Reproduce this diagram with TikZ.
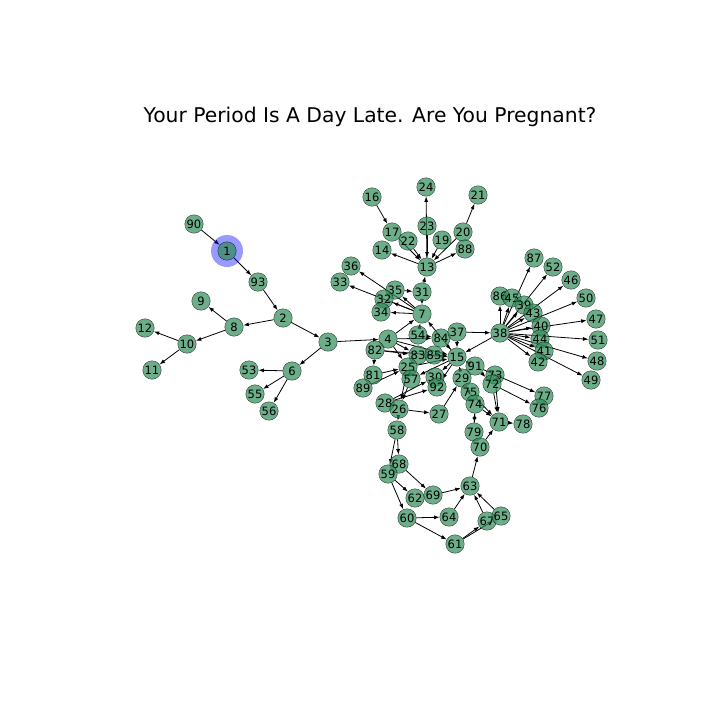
\documentclass[tikz,border=0pt]{standalone}
\usepackage{fontspec}
\setmainfont{DejaVu Sans}
\usetikzlibrary{arrows.meta, backgrounds}
\definecolor{vertfill}{RGB}{46,139,87}
\begin{document}
\begin{tikzpicture}[x=1pt, y=-1pt, >={Latex[length=5.5pt,width=4pt]},
    every node/.style={circle, draw=black, draw opacity=0.7, fill=vertfill, fill opacity=0.7, text opacity=1, minimum size=18.5pt, inner sep=0pt, font=\fontsize{11.5}{11.5}\selectfont},
    edge/.style={->, draw=black, line width=0.8pt}]
    \useasboundingbox (0,0) rectangle (720,720);
    % Title
    \node[draw=none, fill=none, font=\fontsize{20.3}{21}\selectfont] at (370,117) (title) {Your Period Is A Day Late. Are You Pregnant?};
    % Start marker
    \node[draw=none, fill=blue, fill opacity=0.4, minimum size=32pt] at (227,251) (h1) {};

    % Nodes
    \node at (227,251) (n1) {1};
    \node at (194,224) (n90) {90};
    \node at (258,282) (n93) {93};
    \node at (283,318) (n2) {2};
    \node at (234,327) (n8) {8};
    \node at (201,301) (n9) {9};
    \node at (187,344) (n10) {10};
    \node at (145,328) (n12) {12};
    \node at (152,370) (n11) {11};
    \node at (328,342) (n3) {3};
    \node at (292,371) (n6) {6};
    \node at (249,370) (n53) {53};
    \node at (255,394) (n55) {55};
    \node at (269,411) (n56) {56};
    \node at (372,197) (n16) {16};
    \node at (426,187) (n24) {24};
    \node at (478,195) (n21) {21};
    \node at (392,232) (n17) {17};
    \node at (427,226) (n23) {23};
    \node at (408,241) (n22) {22};
    \node at (442,240) (n19) {19};
    \node at (463,232) (n20) {20};
    \node at (382,250) (n14) {14};
    \node at (465,249) (n88) {88};
    \node at (427,267) (n13) {13};
    \node at (351,266) (n36) {36};
    \node at (340,282) (n33) {33};
    \node at (395,290) (n35) {35};
    \node at (422,292) (n31) {31};
    \node at (384,299) (n32) {32};
    \node at (381,312) (n34) {34};
    \node at (422,314) (n7) {7};
    \node at (388,339) (n4) {4};
    \node at (418,335) (n54) {54};
    \node at (441,338) (n84) {84};
    \node at (457,332) (n37) {37};
    \node at (500,333) (n38) {38};
    \node at (375,350) (n82) {82};
    \node at (418,355) (n83) {83};
    \node at (434,355) (n85) {85};
    \node at (457,357) (n15) {15};
    \node at (475,366) (n91) {91};
    \node at (408,367) (n25) {25};
    \node at (373,375) (n81) {81};
    \node at (363,388) (n89) {89};
    \node at (435,377) (n30) {30};
    \node at (411,379) (n57) {57};
    \node at (437,387) (n92) {92};
    \node at (462,378) (n29) {29};
    \node at (385,403) (n28) {28};
    \node at (399,409) (n26) {26};
    \node at (439,414) (n27) {27};
    \node at (470,392) (n75) {75};
    \node at (475,404) (n74) {74};
    \node at (495,375) (n73) {73};
    \node at (492,384) (n72) {72};
    \node at (499,422) (n71) {71};
    \node at (523,424) (n78) {78};
    \node at (544,396) (n77) {77};
    \node at (539,408) (n76) {76};
    \node at (474,432) (n79) {79};
    \node at (480,447) (n70) {70};
    \node at (397,430) (n58) {58};
    \node at (399,464) (n68) {68};
    \node at (388,474) (n59) {59};
    \node at (415,498) (n62) {62};
    \node at (433,495) (n69) {69};
    \node at (470,486) (n63) {63};
    \node at (449,517) (n64) {64};
    \node at (407,518) (n60) {60};
    \node at (455,544) (n61) {61};
    \node at (487,521) (n67) {67};
    \node at (501,516) (n65) {65};
    \node at (534,258) (n87) {87};
    \node at (553,267) (n52) {52};
    \node at (571,280) (n46) {46};
    \node at (500,296) (n86) {86};
    \node at (512,298) (n45) {45};
    \node at (524,305) (n39) {39};
    \node at (586,298) (n50) {50};
    \node at (533,313) (n43) {43};
    \node at (541,326) (n40) {40};
    \node at (596,319) (n47) {47};
    \node at (540,339) (n44) {44};
    \node at (598,340) (n51) {51};
    \node at (544,351) (n41) {41};
    \node at (538,362) (n42) {42};
    \node at (597,361) (n48) {48};
    \node at (591,380) (n49) {49};

    % Edges
    \begin{scope}[on background layer]
    \draw[edge] (n90) -- (n1);   \draw[edge] (n1) -- (n93);   \draw[edge] (n93) -- (n2);
    \draw[edge] (n2) -- (n8);    \draw[edge] (n2) -- (n3);    \draw[edge] (n8) -- (n9);
    \draw[edge] (n8) -- (n10);   \draw[edge] (n10) -- (n12);  \draw[edge] (n10) -- (n11);
    \draw[edge] (n3) -- (n6);    \draw[edge] (n6) -- (n53);   \draw[edge] (n6) -- (n55);
    \draw[edge] (n6) -- (n56);   \draw[edge] (n3) -- (n4);

    \draw[edge] (n16) -- (n17);  \draw[edge] (n17) -- (n13);  \draw[edge] (n13) -- (n14);
    \draw[edge] (n22) -- (n13);  \draw[edge] (n23) -- (n13);  \draw[edge] (n13) -- (n24);
    \draw[edge] (n19) -- (n13);  \draw[edge] (n20) -- (n13);  \draw[edge] (n20) -- (n21);
    \draw[edge] (n13) -- (n88);  \draw[edge] (n31) -- (n13);  \draw[edge] (n31) -- (n7);
    \draw[edge] (n35) -- (n31);  \draw[edge] (n7) -- (n36);   \draw[edge] (n7) -- (n33);
    \draw[edge] (n7) -- (n34);   \draw[edge] (n7) -- (n35);   \draw[edge] (n7) -- (n32);
    \draw[edge] (n4) -- (n7);    \draw[edge] (n54) -- (n7);   \draw[edge] (n15) -- (n7);

    \draw[edge] (n4) -- (n84);   \draw[edge] (n54) -- (n84);  \draw[edge] (n4) -- (n15);
    \draw[edge] (n4) -- (n25);   \draw[edge] (n82) -- (n83);  \draw[edge] (n82) -- (n15);
    \draw[edge] (n82) -- (n81);  \draw[edge] (n81) -- (n25);  \draw[edge] (n89) -- (n25);
    \draw[edge] (n83) -- (n15);  \draw[edge] (n85) -- (n15);  \draw[edge] (n25) -- (n15);
    \draw[edge] (n15) -- (n57);  \draw[edge] (n15) -- (n30);  \draw[edge] (n15) -- (n92);
    \draw[edge] (n29) -- (n15);  \draw[edge] (n27) -- (n29);  \draw[edge] (n91) -- (n15);
    \draw[edge] (n38) -- (n15);  \draw[edge] (n37) -- (n38);  \draw[edge] (n37) -- (n15);
    \draw[edge] (n84) -- (n15);  \draw[edge] (n25) -- (n26);  \draw[edge] (n57) -- (n26);
    \draw[edge] (n28) -- (n30);  \draw[edge] (n28) -- (n92);  \draw[edge] (n26) -- (n27);
    \draw[edge] (n26) -- (n58);  \draw[edge] (n25) -- (n57);  \draw[edge] (n4) -- (n83);

    \draw[edge] (n58) -- (n59);  \draw[edge] (n58) -- (n68);  \draw[edge] (n59) -- (n60);
    \draw[edge] (n59) -- (n62);  \draw[edge] (n68) -- (n69);  \draw[edge] (n69) -- (n63);
    \draw[edge] (n60) -- (n64);  \draw[edge] (n60) -- (n61);  \draw[edge] (n64) -- (n63);
    \draw[edge] (n61) -- (n67);  \draw[edge] (n61) -- (n65);  \draw[edge] (n67) -- (n63);
    \draw[edge] (n65) -- (n63);  \draw[edge] (n63) -- (n70);  \draw[edge] (n70) -- (n71);
    \draw[edge] (n79) -- (n74);  \draw[edge] (n74) -- (n79);  \draw[edge] (n74) -- (n71);
    \draw[edge] (n75) -- (n71);  \draw[edge] (n72) -- (n71);  \draw[edge] (n73) -- (n71);
    \draw[edge] (n71) -- (n78);  \draw[edge] (n91) -- (n77);  \draw[edge] (n72) -- (n76);
    \draw[edge] (n29) -- (n74);  \draw[edge] (n91) -- (n72);

    \draw[edge] (n38) -- (n86);  \draw[edge] (n38) -- (n87);  \draw[edge] (n38) -- (n45);
    \draw[edge] (n38) -- (n52);  \draw[edge] (n38) -- (n39);  \draw[edge] (n38) -- (n46);
    \draw[edge] (n38) -- (n43);  \draw[edge] (n38) -- (n50);  \draw[edge] (n38) -- (n40);
    \draw[edge] (n38) -- (n47);  \draw[edge] (n38) -- (n44);  \draw[edge] (n38) -- (n51);
    \draw[edge] (n38) -- (n41);  \draw[edge] (n38) -- (n48);  \draw[edge] (n38) -- (n42);
    \draw[edge] (n38) -- (n49);
    \end{scope}
\end{tikzpicture}
\end{document}
